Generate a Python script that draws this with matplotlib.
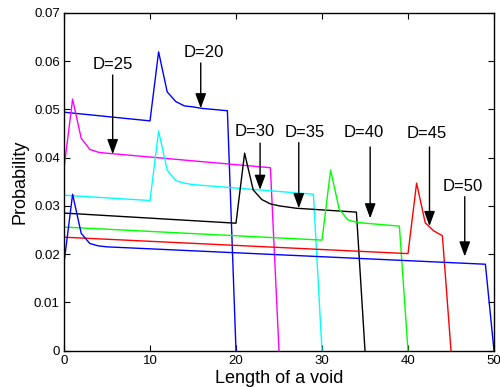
import matplotlib
matplotlib.use("Agg")
import matplotlib.pyplot as plt
from matplotlib.ticker import FixedLocator, FuncFormatter

plt.rcParams['font.family'] = ['Liberation Sans', 'DejaVu Sans']

# Vertices of each curve (length of a void, probability)
blue_top_x = [0, 10, 11, 12, 13, 14, 15, 16, 19, 20]
blue_top_y = [0.0494, 0.0476, 0.0619, 0.0536, 0.0516, 0.0507, 0.0505, 0.0502, 0.0497, 0.0]

magenta_x = [0, 1, 2, 3, 4, 5, 24, 25]
magenta_y = [0.0378, 0.0521, 0.0440, 0.0417, 0.0411, 0.0409, 0.0379, 0.0]

cyan_x = [0, 10, 11, 12, 13, 14, 15, 29, 30]
cyan_y = [0.0322, 0.0311, 0.0455, 0.0374, 0.0352, 0.0347, 0.0344, 0.0324, 0.0]

black_x = [0, 20, 21, 22, 23, 24, 25, 27, 34, 35]
black_y = [0.0285, 0.0264, 0.0409, 0.0333, 0.0313, 0.0304, 0.0300, 0.0295, 0.0287, 0.0]

green_x = [0, 30, 31, 32, 33, 34, 35, 39, 40]
green_y = [0.0256, 0.0229, 0.0374, 0.0293, 0.0271, 0.0266, 0.0264, 0.0258, 0.0]

red_x = [0, 40, 41, 42, 43, 44, 45]
red_y = [0.0235, 0.0201, 0.0347, 0.0265, 0.0248, 0.0238, 0.0]

blue_bot_x = [0, 1, 2, 3, 4, 5, 49, 50]
blue_bot_y = [0.0181, 0.0324, 0.0243, 0.0222, 0.0217, 0.0215, 0.0179, 0.0]

series = [
    (blue_top_x, blue_top_y, '#0000ff'),
    (magenta_x, magenta_y, '#ff00ff'),
    (cyan_x, cyan_y, '#00ffff'),
    (black_x, black_y, '#000000'),
    (green_x, green_y, '#00ff00'),
    (red_x, red_y, '#ff0000'),
    (blue_bot_x, blue_bot_y, '#0000ff'),
]

# Annotation labels: (label, text x, text y, arrow x, arrow start y, arrow tip y)
labels = ['D=20', 'D=25', 'D=30', 'D=35', 'D=40', 'D=45', 'D=50']
label_text_x = [16.2, 5.7, 22.2, 28.0, 34.8, 42.2, 46.4]
label_text_y = [0.0617, 0.0592, 0.0453, 0.0451, 0.0451, 0.0449, 0.0341]
arrow_x = [15.9, 5.66, 22.8, 27.3, 35.6, 42.5, 46.6]
arrow_start_y = [0.0596, 0.0571, 0.0430, 0.0431, 0.0422, 0.0422, 0.0319]
arrow_tip_y = [0.0502, 0.0407, 0.0333, 0.0295, 0.0274, 0.0258, 0.0195]

x_ticks = [0, 10, 20, 30, 40, 50]
y_ticks = [0, 0.01, 0.02, 0.03, 0.04, 0.05, 0.06, 0.07]

fig = plt.figure(figsize=(5.0, 3.87), dpi=100)
ax = fig.add_axes([0.128, 0.094, 0.860, 0.873])

for xs, ys, c in series:
    ax.plot(xs, ys, color=c, lw=1.0)

for lab, tx, ty, ax_x, sy, ey in zip(labels, label_text_x, label_text_y,
                                     arrow_x, arrow_start_y, arrow_tip_y):
    ax.text(tx, ty, lab, ha='center', va='center', fontsize=12)
    ax.annotate('', xy=(ax_x, ey), xytext=(ax_x, sy),
                arrowprops=dict(arrowstyle='-|>,head_length=0.6,head_width=0.22',
                                color='black', lw=1.0,
                                mutation_scale=15, shrinkA=0, shrinkB=0))

ax.set_xlim(0, 50)
ax.set_ylim(0, 0.07)
ax.xaxis.set_major_locator(FixedLocator(x_ticks))
ax.yaxis.set_major_locator(FixedLocator(y_ticks))
ax.yaxis.set_major_formatter(FuncFormatter(lambda v, p: '%g' % round(v, 4)))
ax.tick_params(direction='in', top=True, right=True, length=4, width=0.8,
               labelsize=9.5, pad=3)
for s in ax.spines.values():
    s.set_linewidth(1.0)

ax.set_xlabel('Length of a void', fontsize=13, labelpad=2)
ax.set_ylabel('Probability', fontsize=13, labelpad=4)

fig.savefig('out.png', dpi=100)
